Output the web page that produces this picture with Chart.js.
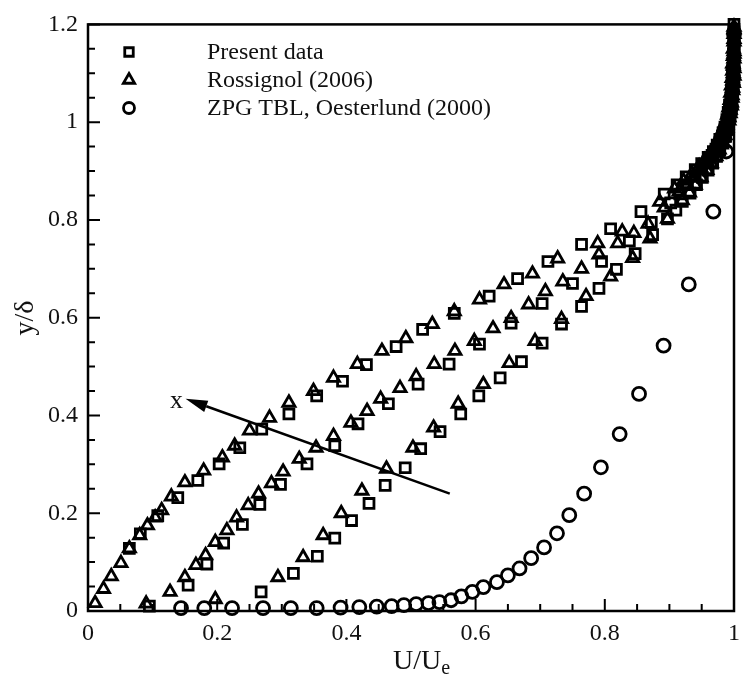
<!DOCTYPE html>
<html>
<head>
<meta charset="utf-8">
<script src="https://cdn.jsdelivr.net/npm/chart.js@4.4.0/dist/chart.umd.min.js"></script>
<style>
    html, body { margin: 0; padding: 0; background: #fff; }
    canvas { display: block; }
</style>
</head>
<body>
<canvas id="chart1" width="748" height="675"></canvas>
<script>

// Оси
const xTickLabels = [0, 0.2, 0.4, 0.6, 0.8, 1];
const yTickLabels = [0, 0.2, 0.4, 0.6, 0.8, 1, 1.2];
const legendLabels = ['Present data', 'Rossignol (2006)', 'ZPG TBL, Oesterlund (2000)'];

// Present data, три профиля (U/Ue, y/δ)
const presentP1 = [
    [0.064, 0.128], [0.081, 0.158], [0.108, 0.195], [0.139, 0.232], [0.170, 0.267],
    [0.203, 0.301], [0.235, 0.334], [0.269, 0.372], [0.311, 0.403], [0.354, 0.440],
    [0.394, 0.470], [0.431, 0.504], [0.477, 0.541], [0.518, 0.576], [0.567, 0.609],
    [0.621, 0.644], [0.665, 0.680], [0.712, 0.715], [0.764, 0.750], [0.809, 0.782],
    [0.856, 0.817], [0.892, 0.853], [0.912, 0.872], [0.926, 0.888], [0.940, 0.903],
    [0.950, 0.915], [0.960, 0.928], [0.968, 0.940], [0.974, 0.953], [0.978, 0.965],
    [0.983, 0.978], [0.986, 0.990], [0.989, 1.005], [0.991, 1.020], [0.993, 1.035],
    [0.995, 1.050], [0.996, 1.065], [0.997, 1.080], [0.998, 1.095], [0.998, 1.110],
    [0.999, 1.125], [0.999, 1.140], [1.000, 1.155], [1.000, 1.170], [1.000, 1.185],
    [1.000, 1.200]
];
const presentP2 = [
    [0.095, 0.010], [0.155, 0.053], [0.184, 0.096], [0.210, 0.139], [0.239, 0.177],
    [0.266, 0.218], [0.298, 0.259], [0.339, 0.301], [0.382, 0.338], [0.418, 0.383],
    [0.465, 0.424], [0.511, 0.464], [0.559, 0.505], [0.606, 0.546], [0.655, 0.589],
    [0.703, 0.629], [0.750, 0.670], [0.795, 0.715], [0.838, 0.757], [0.872, 0.795],
    [0.902, 0.835], [0.916, 0.853], [0.928, 0.872], [0.940, 0.889], [0.950, 0.905],
    [0.959, 0.919], [0.966, 0.932], [0.972, 0.945], [0.978, 0.958], [0.982, 0.972],
    [0.986, 0.985], [0.989, 1.000], [0.992, 1.015], [0.994, 1.030], [0.996, 1.045],
    [0.997, 1.060], [0.998, 1.075], [0.999, 1.090], [0.999, 1.105], [1.000, 1.120],
    [1.000, 1.135], [1.000, 1.150], [1.000, 1.165], [1.000, 1.180]
];
const presentP3 = [
    [0.268, 0.039], [0.318, 0.077], [0.355, 0.112], [0.382, 0.149], [0.408, 0.185],
    [0.435, 0.220], [0.460, 0.257], [0.491, 0.293], [0.515, 0.332], [0.545, 0.367],
    [0.577, 0.403], [0.605, 0.440], [0.638, 0.477], [0.671, 0.510], [0.703, 0.548],
    [0.733, 0.587], [0.764, 0.623], [0.791, 0.660], [0.818, 0.699], [0.847, 0.731],
    [0.874, 0.770], [0.897, 0.802], [0.910, 0.820], [0.920, 0.838], [0.932, 0.855],
    [0.942, 0.872], [0.951, 0.887], [0.960, 0.902], [0.967, 0.916], [0.973, 0.930],
    [0.978, 0.943], [0.983, 0.957], [0.987, 0.971], [0.990, 0.985], [0.994, 1.012],
    [0.996, 1.026], [0.997, 1.040], [0.998, 1.055], [0.999, 1.070], [1.000, 1.085],
    [1.000, 1.100], [1.000, 1.130], [1.000, 1.160], [1.000, 1.190]
];

// Rossignol (2006)
const rossignolP1 = [
    [0.011, 0.016], [0.024, 0.045], [0.036, 0.071], [0.051, 0.098], [0.064, 0.128],
    [0.080, 0.155], [0.092, 0.175], [0.104, 0.191], [0.114, 0.206], [0.129, 0.234],
    [0.150, 0.263], [0.179, 0.287], [0.208, 0.314], [0.227, 0.338], [0.250, 0.369],
    [0.281, 0.395], [0.311, 0.426], [0.349, 0.450], [0.380, 0.477], [0.417, 0.505],
    [0.455, 0.532], [0.492, 0.558], [0.533, 0.587], [0.567, 0.613], [0.606, 0.637],
    [0.644, 0.668], [0.688, 0.690], [0.727, 0.721], [0.789, 0.752], [0.827, 0.776],
    [0.885, 0.837], [0.908, 0.864], [0.922, 0.880], [0.935, 0.895], [0.946, 0.909],
    [0.955, 0.922], [0.963, 0.935], [0.970, 0.948], [0.976, 0.962], [0.980, 0.975],
    [0.984, 0.988], [0.987, 1.000], [0.990, 1.015], [0.992, 1.030], [0.994, 1.045],
    [0.995, 1.060], [0.996, 1.075], [0.997, 1.090], [0.998, 1.105], [0.998, 1.120],
    [0.999, 1.135], [0.999, 1.150], [1.000, 1.165], [1.000, 1.180], [1.000, 1.195]
];
const rossignolP2 = [
    [0.090, 0.015], [0.127, 0.039], [0.150, 0.069], [0.167, 0.094], [0.182, 0.114],
    [0.197, 0.141], [0.215, 0.165], [0.230, 0.191], [0.248, 0.216], [0.264, 0.240],
    [0.284, 0.261], [0.302, 0.285], [0.327, 0.311], [0.353, 0.334], [0.380, 0.358],
    [0.407, 0.385], [0.432, 0.409], [0.453, 0.434], [0.483, 0.456], [0.508, 0.480],
    [0.536, 0.505], [0.568, 0.532], [0.598, 0.552], [0.627, 0.578], [0.655, 0.599],
    [0.682, 0.627], [0.708, 0.654], [0.735, 0.674], [0.764, 0.700], [0.791, 0.729],
    [0.820, 0.752], [0.845, 0.773], [0.867, 0.792], [0.892, 0.825], [0.915, 0.858],
    [0.927, 0.873], [0.938, 0.888], [0.948, 0.902], [0.958, 0.915], [0.965, 0.928],
    [0.972, 0.942], [0.977, 0.955], [0.982, 0.968], [0.986, 0.982], [0.989, 0.995],
    [0.992, 1.010], [0.994, 1.025], [0.996, 1.040], [0.997, 1.055], [0.998, 1.070],
    [0.998, 1.085], [0.999, 1.100], [0.999, 1.115], [1.000, 1.130], [1.000, 1.145],
    [1.000, 1.190]
];
const rossignolP3 = [
    [0.197, 0.024], [0.294, 0.069], [0.333, 0.110], [0.364, 0.155], [0.392, 0.200],
    [0.424, 0.246], [0.462, 0.291], [0.503, 0.334], [0.535, 0.375], [0.573, 0.424],
    [0.612, 0.464], [0.652, 0.507], [0.692, 0.552], [0.733, 0.597], [0.771, 0.644],
    [0.809, 0.684], [0.843, 0.722], [0.870, 0.762], [0.897, 0.802], [0.920, 0.840],
    [0.931, 0.856], [0.940, 0.872], [0.949, 0.887], [0.958, 0.902], [0.965, 0.916],
    [0.972, 0.930], [0.977, 0.944], [0.982, 0.958], [0.986, 0.973], [0.989, 0.988],
    [0.992, 1.003], [0.994, 1.018], [0.996, 1.034], [0.997, 1.050], [0.998, 1.065],
    [0.999, 1.080], [1.000, 1.095], [1.000, 1.110], [1.000, 1.140], [1.000, 1.170]
];

// ZPG TBL, Oesterlund (2000)
const zpgTBL = [
    [0.144, 0.006], [0.180, 0.006], [0.223, 0.006], [0.271, 0.006], [0.314, 0.006],
    [0.354, 0.006], [0.391, 0.007], [0.420, 0.008], [0.447, 0.009], [0.470, 0.010],
    [0.489, 0.012], [0.508, 0.014], [0.527, 0.016], [0.544, 0.018], [0.562, 0.022],
    [0.578, 0.030], [0.595, 0.039], [0.612, 0.049], [0.633, 0.059], [0.650, 0.073],
    [0.668, 0.087], [0.686, 0.108], [0.706, 0.130], [0.726, 0.159], [0.745, 0.196],
    [0.768, 0.240], [0.794, 0.294], [0.823, 0.362], [0.853, 0.444], [0.891, 0.543],
    [0.930, 0.668], [0.968, 0.817], [0.988, 0.940], [0.995, 1.030], [0.999, 1.110],
    [1.000, 1.180]
];

const toXY = arr => arr.map(p => ({ x: p[0], y: p[1] }));

const serif = 'Liberation Serif';

function markerSet(label, style, radius, points) {
    return {
        label: label,
        data: toXY(points),
        pointStyle: style,
        pointRadius: radius,
        pointHoverRadius: radius,
        pointBorderWidth: 2.8,
        borderColor: '#000',
        backgroundColor: 'rgba(0,0,0,0)',
        showLine: false,
        clip: false
    };
}

// Рамка, внутренние засечки, легенда, стрелка и подписи осей
const decorations = {
    id: 'decorations',
    beforeDatasetsDraw(chart) {
        const { ctx, chartArea: a, scales } = chart;
        const xs = scales.x, ys = scales.y;
        ctx.save();
        ctx.strokeStyle = '#000';
        ctx.lineWidth = 2.5;
        ctx.strokeRect(a.left, a.top, a.right - a.left, a.bottom - a.top);

        ctx.lineWidth = 2;
        ctx.beginPath();
        for (let i = 0; i <= 20; i++) {
            const v = i * 0.05;
            const len = (i % 4 === 0) ? 12 : 7;
            const px = xs.getPixelForValue(v);
            ctx.moveTo(px, a.bottom);
            ctx.lineTo(px, a.bottom - len);
        }
        for (let i = 0; i <= 24; i++) {
            const v = i * 0.05;
            const len = (i % 4 === 0) ? 12 : 7;
            const py = ys.getPixelForValue(v);
            ctx.moveTo(a.left, py);
            ctx.lineTo(a.left + len, py);
        }
        ctx.stroke();
        ctx.restore();
    },
    afterDraw(chart) {
        const { ctx, scales } = chart;
        const xs = scales.x, ys = scales.y;
        ctx.save();
        ctx.strokeStyle = '#000';

        // легенда
        const styles = ['rect', 'triangle', 'circle'];
        const radii = [6, 6.5, 5.5];
        legendLabels.forEach((txt, i) => {
            const y = 52 + i * 28;
            ctx.fillStyle = 'rgba(0,0,0,0)';
            Chart.helpers.drawPoint(ctx, {
                pointStyle: styles[i], radius: radii[i], borderWidth: 2.8
            }, 129, y);
            ctx.fillStyle = '#111';
            ctx.font = '24px "' + serif + '"';
            ctx.textAlign = 'left';
            ctx.textBaseline = 'middle';
            ctx.fillText(txt, 207, y + 1);
        });

        // стрелка x
        ctx.fillStyle = '#000';
        const x0 = xs.getPixelForValue(0.56), y0 = ys.getPixelForValue(0.24);
        const x1 = xs.getPixelForValue(0.151), y1 = ys.getPixelForValue(0.434);
        const ang = Math.atan2(y1 - y0, x1 - x0);
        const hl = 22, hw = 6;
        const bx = x1 - hl * Math.cos(ang), by = y1 - hl * Math.sin(ang);
        ctx.lineWidth = 2.5;
        ctx.beginPath();
        ctx.moveTo(x0, y0);
        ctx.lineTo(bx, by);
        ctx.stroke();
        ctx.beginPath();
        ctx.moveTo(x1, y1);
        ctx.lineTo(bx + hw * Math.sin(ang), by - hw * Math.cos(ang));
        ctx.lineTo(bx - hw * Math.sin(ang), by + hw * Math.cos(ang));
        ctx.closePath();
        ctx.fill();
        ctx.fillStyle = '#111';
        ctx.font = '26px "' + serif + '"';
        ctx.textAlign = 'center';
        ctx.textBaseline = 'alphabetic';
        ctx.fillText('x', x1 - 9, y1 + 9);

        // подписи осей
        ctx.font = '28px "' + serif + '"';
        ctx.textAlign = 'left';
        ctx.fillText('U/U', 393, 669);
        const w = ctx.measureText('U/U').width;
        ctx.font = '20px "' + serif + '"';
        ctx.fillText('e', 393 + w, 674);

        ctx.translate(33, 318);
        ctx.rotate(-Math.PI / 2);
        ctx.font = '28px "' + serif + '"';
        ctx.textAlign = 'center';
        ctx.fillText('y/δ', 0, 0);
        ctx.restore();
    }
};

document.addEventListener('DOMContentLoaded', () => {
    const chart1 = document.getElementById('chart1');
    new Chart(chart1.getContext('2d'), {
        type: 'scatter',
        data: {
            datasets: [
                markerSet('Present data', 'rect', 7, presentP1.concat(presentP2, presentP3)),
                markerSet('Rossignol (2006)', 'triangle', 7, rossignolP1.concat(rossignolP2, rossignolP3)),
                markerSet('ZPG TBL, Oesterlund (2000)', 'circle', 6.5, zpgTBL)
            ]
        },
        plugins: [decorations],
        options: {
            responsive: false,
            animation: false,
            layout: {
                autoPadding: false,
                padding: { top: 21, right: 2, left: 0, bottom: 0 }
            },
            plugins: {
                legend: { display: false },
                tooltip: { enabled: false }
            },
            scales: {
                x: {
                    type: 'linear',
                    min: 0,
                    max: 1,
                    afterBuildTicks: s => { s.ticks = xTickLabels.map(v => ({ value: v })); },
                    afterFit: s => { s.height = 64; },
                    grid: { display: false, drawTicks: false },
                    border: { display: false },
                    ticks: {
                        padding: 8,
                        maxRotation: 0,
                        color: '#111',
                        font: { family: serif, size: 24 },
                        callback: v => String(v)
                    }
                },
                y: {
                    type: 'linear',
                    min: 0,
                    max: 1.2,
                    afterBuildTicks: s => { s.ticks = yTickLabels.map(v => ({ value: v })); },
                    afterFit: s => { s.width = 88; },
                    grid: { display: false, drawTicks: false },
                    border: { display: false },
                    ticks: {
                        padding: 10,
                        color: '#111',
                        font: { family: serif, size: 24 },
                        callback: v => String(v)
                    }
                }
            }
        }
    });
});
</script>
</body>
</html>
